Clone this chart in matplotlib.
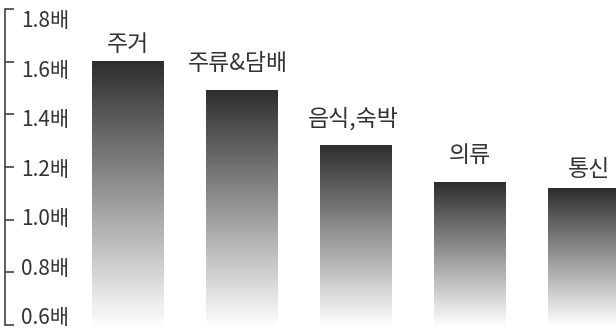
import numpy as np
import matplotlib
matplotlib.use("Agg")
import matplotlib.pyplot as plt
from matplotlib.colors import LinearSegmentedColormap

plt.rcParams['font.family'] = ['Noto Sans CJK KR', 'DejaVu Sans']

# data
categories = ['주거', '주류&담배', '음식,숙박', '의류', '통신']
values = [1.60, 1.49, 1.28, 1.14, 1.12]
yticks = [0.6, 0.8, 1.0, 1.2, 1.4, 1.6, 1.8]
ytick_labels = [f"{v:.1f}배" for v in yticks]

# layout tweaks (pixel gaps between bar top and its label)
label_gap_px = [17, 27, 27, 27, 19]
label_dx_px = [0, -4, -2, 0, 5]

text_color = '#333333'
y_min, y_max = 0.6, 1.8

fig = plt.figure(figsize=(6.16, 3.33), dpi=100)
ax = fig.add_axes([5 / 616, 8 / 333, 611 / 616, 316 / 333])

x = np.arange(len(categories))
bars = ax.bar(x, np.array(values) - y_min, width=0.623, bottom=y_min,
              color='none', edgecolor='none')

# vertical gradient inside each bar, dark on top, near white at the bottom
cmap = LinearSegmentedColormap.from_list('bar_grad', ['#2e2e2e', '#fdfdfd'])
grad = np.linspace(0, 1, 256).reshape(-1, 1)
for rect in bars:
    l = rect.get_x()
    r = l + rect.get_width()
    b = rect.get_y()
    t = b + rect.get_height()
    ax.imshow(grad, cmap=cmap, aspect='auto', extent=(l, r, b, t),
              origin='upper', interpolation='bilinear', zorder=2)

# category labels above bars
for i, (cat, v) in enumerate(zip(categories, values)):
    ax.annotate(cat, xy=(i, v), xytext=(label_dx_px[i] * 0.72, label_gap_px[i] * 0.72),
                textcoords='offset points', ha='center', va='center',
                fontsize=16.5, color=text_color, fontweight='light')

ax.set_xlim(-1.075, 4.285)
ax.set_ylim(y_min, y_max)

for s in ['top', 'right', 'bottom']:
    ax.spines[s].set_visible(False)
ax.spines['left'].set_color(text_color)
ax.spines['left'].set_linewidth(1.1)

ax.set_xticks([])
ax.set_yticks(yticks)
ax.set_yticklabels([])
ax.tick_params(axis='y', direction='in', length=6.5, width=1.1, color=text_color)

# tick labels sit a bit inside the axis, spread slightly tighter than the ticks
for v, lab in zip(yticks, ytick_labels):
    ax.text(16 / 611, 1.19 + (v - 1.2) * 0.94, lab, transform=ax.get_yaxis_transform(),
            ha='left', va='center', fontsize=15, color=text_color, fontweight='light')

fig.savefig('out.png', dpi=100)
